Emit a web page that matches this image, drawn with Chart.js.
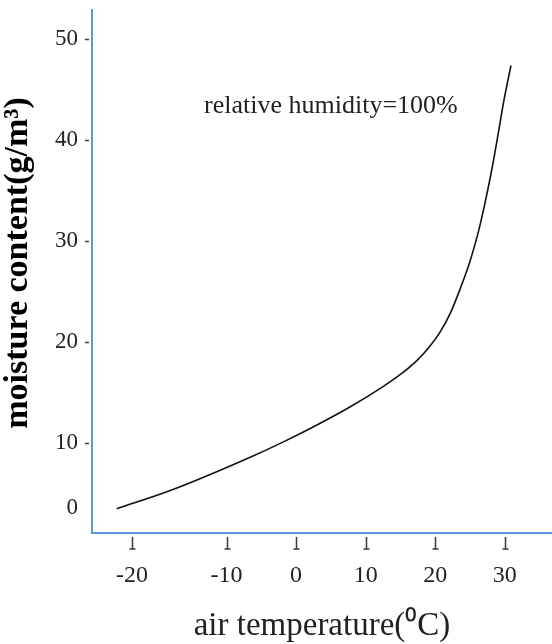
<!DOCTYPE html>
<html>
<head>
<meta charset="utf-8">
<script src="https://cdn.jsdelivr.net/npm/chart.js@4"></script>
<style>
  body { margin: 0; background: #fff; }
  #wrap { width: 552px; height: 644px; position: relative; }
</style>
</head>
<body>
<div id="wrap"><canvas id="myChart"></canvas></div>
<script>
// curve (air temperature in C, moisture content in g/m3)
const temperature = [-25.8, -18.1, -6.6, -1.9, 3.0, 7.8, 12.5, 15.0, 17.4, 19.0, 20.7, 22.2, 23.6, 25.0, 26.2, 27.2, 28.2, 29.0, 29.9, 30.9];
const moisture = [3.5, 5.3, 8.6, 10.1, 11.8, 13.6, 15.6, 16.8, 18.2, 19.4, 21.0, 22.9, 25.3, 28.0, 30.9, 33.9, 37.3, 40.4, 44.0, 47.4];

// the outermost ticks in the original are not on the linear grid, keep them where they were drawn
const xTickValues = [-23.6, -10, 0, 10, 20, 30];
const xTickLabels = ["-20", "-10", "0", "10", "20", "30"];
const yTickValues = [3.56, 10, 20, 30, 40, 50];
const yTickLabels = ["0", "10", "20", "30", "40", "50"];

const noteText = "relative humidity=100%";
const noteAt = { x: 5, y: 43.4 };

const axisBlue = "#5b9bd5";
const textColor = "#222";
const serif = "'Liberation Serif', 'Times New Roman', serif";

const tickMarks = {
  id: "tickMarks",
  afterDraw: (chart) => {
    const ctx = chart.ctx;
    const x = chart.scales.x;
    const y = chart.scales.y;
    ctx.save();
    ctx.strokeStyle = "#3a3a3a";
    ctx.lineWidth = 1.5;
    x.ticks.forEach((t) => {
      const px = Math.round(x.getPixelForValue(t.value)) + 0.5;
      ctx.beginPath();
      ctx.moveTo(px, x.top + 4);
      ctx.lineTo(px, x.top + 16);
      ctx.moveTo(px - 3, x.top + 16);
      ctx.lineTo(px + 3, x.top + 16);
      ctx.stroke();
    });
    y.ticks.forEach((t, i) => {
      if (i === 0) return; // no dash next to the "0" label
      const py = Math.round(y.getPixelForValue(t.value)) + 0.5;
      ctx.beginPath();
      ctx.moveTo(y.right - 7, py);
      ctx.lineTo(y.right - 3, py);
      ctx.stroke();
    });
    // note text
    ctx.fillStyle = textColor;
    ctx.font = "26px " + serif;
    ctx.textAlign = "center";
    ctx.textBaseline = "middle";
    ctx.fillText(noteText, x.getPixelForValue(noteAt.x), y.getPixelForValue(noteAt.y));
    ctx.restore();
  },
};

const config = {
  type: "line",
  data: {
    datasets: [
      {
        label: "moisture",
        data: temperature.map((t, i) => ({ x: t, y: moisture[i] })),
        borderColor: "#111",
        borderWidth: 1.6,
        pointRadius: 0,
        fill: false,
        cubicInterpolationMode: "monotone",
      },
    ],
  },
  options: {
    responsive: true,
    maintainAspectRatio: false,
    animation: false,
    layout: { padding: { top: 10, right: 0, left: 0, bottom: 0 } },
    plugins: {
      legend: { display: false },
      tooltip: { enabled: false },
    },
    scales: {
      x: {
        type: "linear",
        min: -29.35,
        max: 36.8,
        afterBuildTicks: (scale) => {
          scale.ticks = xTickValues.map((v) => ({ value: v }));
        },
        afterFit: (scale) => {
          scale.height = 111;
          scale.paddingLeft = 0;
          scale.paddingRight = 0;
        },
        grid: { display: false, drawTicks: false },
        border: { display: true, color: axisBlue, width: 2 },
        ticks: {
          padding: 28,
          color: textColor,
          font: { family: serif, size: 24 },
          maxRotation: 0,
          callback: (value, index) => xTickLabels[index],
        },
        title: {
          display: true,
          text: "air temperature(\u2070C)",
          color: textColor,
          font: { family: serif, size: 33, lineHeight: 1 },
          padding: { top: 0, bottom: 1 },
        },
      },
      y: {
        type: "linear",
        min: 1.1,
        max: 52.9,
        afterBuildTicks: (scale) => {
          scale.ticks = yTickValues.map((v) => ({ value: v }));
        },
        afterFit: (scale) => {
          scale.width = 92;
          scale.paddingTop = 0;
          scale.paddingBottom = 0;
        },
        grid: { display: false, drawTicks: false },
        border: { display: true, color: axisBlue, width: 2 },
        ticks: {
          padding: 14,
          color: textColor,
          font: { family: serif, size: 23 },
          callback: (value, index) => yTickLabels[index],
        },
        title: {
          display: true,
          // leading spaces nudge the rotated title up a little, as in the original
          text: "  moisture content(g/m\u00b3)",
          color: "#000",
          font: { family: serif, size: 34, weight: "bold", lineHeight: 1.1 },
          padding: { top: 0, bottom: 0 },
        },
      },
    },
  },
  plugins: [tickMarks],
};

const ctx = document.getElementById("myChart").getContext("2d");
const myChart = new Chart(ctx, config);
</script>
</body>
</html>
